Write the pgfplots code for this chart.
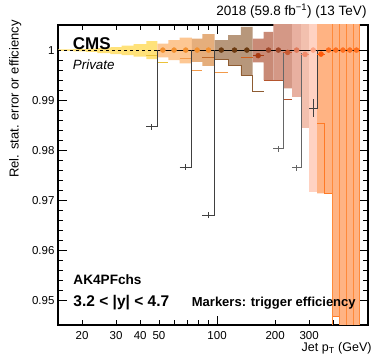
\documentclass[border=0pt]{standalone}
\usepackage{pgfplots}
\pgfplotsset{compat=1.18}
\usepackage{fontspec}
\setmainfont{Liberation Sans}
\definecolor{cYel}{HTML}{FFE27A}
\definecolor{cYelL}{HTML}{EBC23A}
\definecolor{cOrL}{HTML}{FDC793}
\definecolor{cTan}{HTML}{E5AE7C}
\definecolor{cBrn}{HTML}{B7977B}
\definecolor{cRB}{HTML}{C98A76}
\definecolor{cRB2}{HTML}{D49886}
\definecolor{cSal}{HTML}{E8B0A0}
\definecolor{cSal2}{HTML}{F2C0AE}
\definecolor{cSal3}{HTML}{FFD2C2}
\definecolor{cOr}{HTML}{FFB383}
\definecolor{cOrLine}{HTML}{F29A4A}
\definecolor{cOrDk}{HTML}{C06A2A}
\definecolor{cBrnLine}{HTML}{8E5C32}
\definecolor{cDkOr}{HTML}{D0601E}
\definecolor{cRBLine}{HTML}{B4552E}
\definecolor{cOrOut}{HTML}{FF7A26}
\definecolor{cOrV}{HTML}{FF8A3A}
\definecolor{dOr}{HTML}{F39130}
\definecolor{dBrn}{HTML}{6B3A10}
\definecolor{dRd}{HTML}{A83A10}
\definecolor{dRB}{HTML}{A0482A}
\definecolor{dR2}{HTML}{C85A32}
\definecolor{dS}{HTML}{E07A5A}
\definecolor{dS2}{HTML}{F08A6A}
\definecolor{dS3}{HTML}{FFA585}
\definecolor{dO1}{HTML}{FF5A0A}
\definecolor{dO}{HTML}{FF7020}
\begin{document}
\begin{tikzpicture}
\useasboundingbox (-58pt,-31pt) rectangle (315pt,325pt);
\begin{axis}[
  scale only axis, width=310pt, height=300pt,
  xmode=log, xmin=15, xmax=605, ymin=0.9452, ymax=1.005,
  axis line style={line width=1.5pt},
  every tick/.style={black, line width=0.9pt},
  major tick length=9pt, minor tick length=5pt,
  xtick={100}, xticklabels={100},
  minor xtick={20,30,40,50,60,70,80,90,200,300,400,500,600},
  extra x ticks={20,30,40,50,200,300},
  extra x tick labels={20,30,40,50,200,300},
  extra x tick style={major tick length=0pt},
  ytick={0.95,0.96,0.97,0.98,0.99,1},
  yticklabels={0.95,0.96,0.97,0.98,0.99,1},
  minor y tick num=4,
  /pgf/number format/assume math mode=true,
  tick label style={font=\fontsize{11.5}{12}\selectfont},
  xticklabel style={yshift=-3pt},
  unbounded coords=jump,
]
% bands
\addplot[fill=cYel, draw=none] coordinates {(15,1.00014)(18,1.00014)(18,1.0002)(21,1.0002)(21,1.0003)(24,1.0003)(24,1.0004)(28,1.0004)(28,1.0006)(32,1.0006)(32,1.0009)(37,1.0009)(37,1.0012)(43,1.0012)(43,1.0018)(49,1.0018)(49,0.9982)(43,0.9982)(43,0.9987)(37,0.9987)(37,0.9990)(32,0.9990)(32,0.9992)(28,0.9992)(28,0.9994)(24,0.9994)(24,0.99964)(21,0.99964)(21,0.99976)(18,0.99976)(18,0.99986)(15,0.99986)} --cycle;
\addplot[fill=cOrL, draw=none] coordinates {(49,1.0013)(56,1.0013)(56,1.0020)(64,1.0020)(64,1.0025)(74,1.0025)(74,0.99735)(64,0.99735)(64,0.9980)(56,0.9980)(56,0.99855)(49,0.99855)} --cycle;
\addplot[fill=cTan, draw=none] coordinates {(74,1.0023)(84,1.0023)(84,1.0032)(97,1.0032)(97,0.99687)(84,0.99687)(84,0.99767)(74,0.99767)} --cycle;
\addplot[fill=cBrn, draw=none] coordinates {(97,1.0020)(114,1.0020)(114,1.0030)(133,1.0030)(133,1.00464)(153,1.00464)(153,0.9950)(133,0.9950)(133,0.9970)(114,0.9970)(114,0.99815)(97,0.99815)} --cycle;
\addplot[fill=cRB, draw=none] coordinates {(153,1.0023)(174,1.0023)(174,1.00365)(196,1.00365)(196,0.9940)(174,0.9940)(174,0.99755)(153,0.99755)} --cycle;
\addplot[fill=cRB2, draw=none] coordinates {(196,1.006)(245,1.006)(245,0.99237)(220,0.99237)(220,0.9940)(196,0.9940)} --cycle;
\addplot[fill=cSal, draw=none] coordinates {(245,1.006)(272,1.006)(272,0.9907)(245,0.9907)} --cycle;
\addplot[fill=cSal2, draw=none] coordinates {(272,1.006)(300,1.006)(300,0.9845)(272,0.9845)} --cycle;
\addplot[fill=cSal3, draw=none] coordinates {(300,1.006)(330,1.006)(330,0.97177)(300,0.97177)} --cycle;
\addplot[fill=cOr, draw=none] coordinates {(330,1.006)(548,1.006)(548,0.94)(430,0.94)(430,0.94687)(395,0.94687)(395,0.97145)(330,0.97145)} --cycle;
% coloured outlines
\addplot[cYelL, line width=0.9pt] coordinates {(43,0.9989)(49,0.9989)(49,nan)(49,0.99751)(56,0.99751)};
\addplot[cOrLine, line width=0.9pt] coordinates {(64,0.99835)(74,0.99835)(74,nan)(74,0.99602)(84,0.99602)(84,nan)(97,0.99562)(114,0.99562)};
\addplot[cOrDk, line width=0.9pt] coordinates {(84,0.99861)(97,0.99861)};
\addplot[cBrnLine, line width=0.9pt] coordinates {(97,0.99815)(114,0.99815)(114,0.9970)(133,0.9970)(133,0.9950)(153,0.9950)(153,0.99183)(174,0.99183)};
\addplot[cDkOr, line width=0.9pt] coordinates {(133,0.99851)(153,0.99851)};
\addplot[cRBLine, line width=0.9pt] coordinates {(174,0.9940)(220,0.9940)(220,0.99018)(245,0.99018)};
\addplot[cOrOut, line width=0.9pt] coordinates {(330,0.98540)(362,0.98540)(362,0.97145)(395,0.97145)(395,0.94687)(430,0.94687)(430,0.94)};
\addplot[cOrV, line width=0.8pt] coordinates {(395,0.94)(395,1.006)(395,nan)(430,0.94)(430,1.006)(430,nan)(468,0.94)(468,1.006)(468,nan)(507,0.94)(507,1.006)(507,nan)(548,0.94)(548,1.006)};
% line at 1
\addplot[black, dashed, line width=0.7pt] coordinates {(15,1)(49,1)};
\addplot[black, line width=0.8pt] coordinates {(49,1)(548,1)};
% efficiency turn-on steps
\addplot[black!75, line width=0.9pt] coordinates {(43,0.98472)(49,0.98472)(49,1)(49,nan)(45.9,0.98412)(45.9,0.98532)};
\addplot[black!75, line width=0.9pt] coordinates {(64,0.9767)(74,0.9767)(74,1)(74,nan)(68.8,0.9761)(68.8,0.9773)};
\addplot[black!75, line width=0.9pt] coordinates {(84,0.9671)(97,0.9671)(97,1)(97,nan)(90.3,0.9665)(90.3,0.9677)};
\addplot[black!60, line width=0.9pt] coordinates {(196,0.9803)(220,0.9803)(220,0.9994)(220,nan)(207.7,0.9797)(207.7,0.9809)};
\addplot[black!60, line width=0.9pt] coordinates {(245,0.97655)(272,0.97655)(272,0.9994)(272,nan)(258.1,0.97595)(258.1,0.97715)};
\addplot[black!75, line width=0.9pt] coordinates {(300,0.98845)(330,0.98845)(330,1)(330,nan)(314.6,0.98675)(314.6,0.99015)};
% dips
\addplot[dRd, line width=0.9pt] coordinates {(153,0.9989)(174,0.9989)};
\addplot[dR2, line width=0.9pt] coordinates {(220,0.99954)(245,0.99954)};
\addplot[dS2, line width=0.9pt] coordinates {(272,0.99914)(300,0.99914)};
\addplot[dO1, line width=0.9pt] coordinates {(330,0.9992)(362,0.9992)};
% markers
\addplot[only marks, mark=*, mark size=2.5pt, color=dOr] coordinates {(52.39,1)(59.87,1)(68.82,1)(78.84,1)(90.29,1)};
\addplot[only marks, mark=*, mark size=2.5pt, color=dBrn] coordinates {(105.16,1)(123.13,1)(142.65,1)};
\addplot[only marks, mark=*, mark size=2.5pt, color=dRd] coordinates {(163.17,0.9989)};
\addplot[only marks, mark=*, mark size=2.5pt, color=dRB] coordinates {(184.67,1)(207.65,1)};
\addplot[only marks, mark=*, mark size=2.5pt, color=dR2] coordinates {(232.16,0.99954)};
\addplot[only marks, mark=*, mark size=2.5pt, color=dS] coordinates {(258.14,1)};
\addplot[only marks, mark=*, mark size=2.5pt, color=dS2] coordinates {(285.66,0.99914)};
\addplot[only marks, mark=*, mark size=2.5pt, color=dS3] coordinates {(314.64,1)};
\addplot[only marks, mark=*, mark size=2.5pt, color=dO1] coordinates {(345.63,0.9992)};
\addplot[only marks, mark=*, mark size=2.5pt, color=dO] coordinates {(378.13,1)(412.13,1)(448.6,1)(487.1,1)(527.1,1)};
\end{axis}
\node[anchor=base west, inner sep=0pt, font=\fontsize{17}{20}\selectfont\bfseries] at (14.7pt,275pt) {CMS};
\node[anchor=base west, inner sep=0pt, font=\fontsize{13.4}{16}\selectfont\itshape] at (14.7pt,255pt) {Private};
\node[anchor=base west, inner sep=0pt, font=\fontsize{13.6}{16}\selectfont\bfseries] at (15.3pt,40pt) {AK4PFchs};
\node[anchor=base west, inner sep=0pt, font=\fontsize{15.5}{18}\selectfont\bfseries] at (15.3pt,18.3pt) {3.2 < |y| < 4.7};
\node[anchor=base west, inner sep=0pt, font=\fontsize{13}{16}\selectfont\bfseries] at (133.7pt,18.3pt) {Markers: trigger efficiency};
\node[anchor=base east, inner sep=0pt, font=\fontsize{13.5}{16}\selectfont] at (308.7pt,309pt) {2018 (59.8 fb\textsuperscript{−1}) (13 TeV)};
\node[anchor=base east, inner sep=0pt, font=\fontsize{12.5}{15}\selectfont] at (313.7pt,-27pt) {Jet p\textsubscript{T} (GeV)};
\node[rotate=90, anchor=east, inner sep=0pt, font=\fontsize{13}{15}\selectfont] at (-42.7pt,305pt) {Rel. stat. error or efficiency};
\end{tikzpicture}
\end{document}
